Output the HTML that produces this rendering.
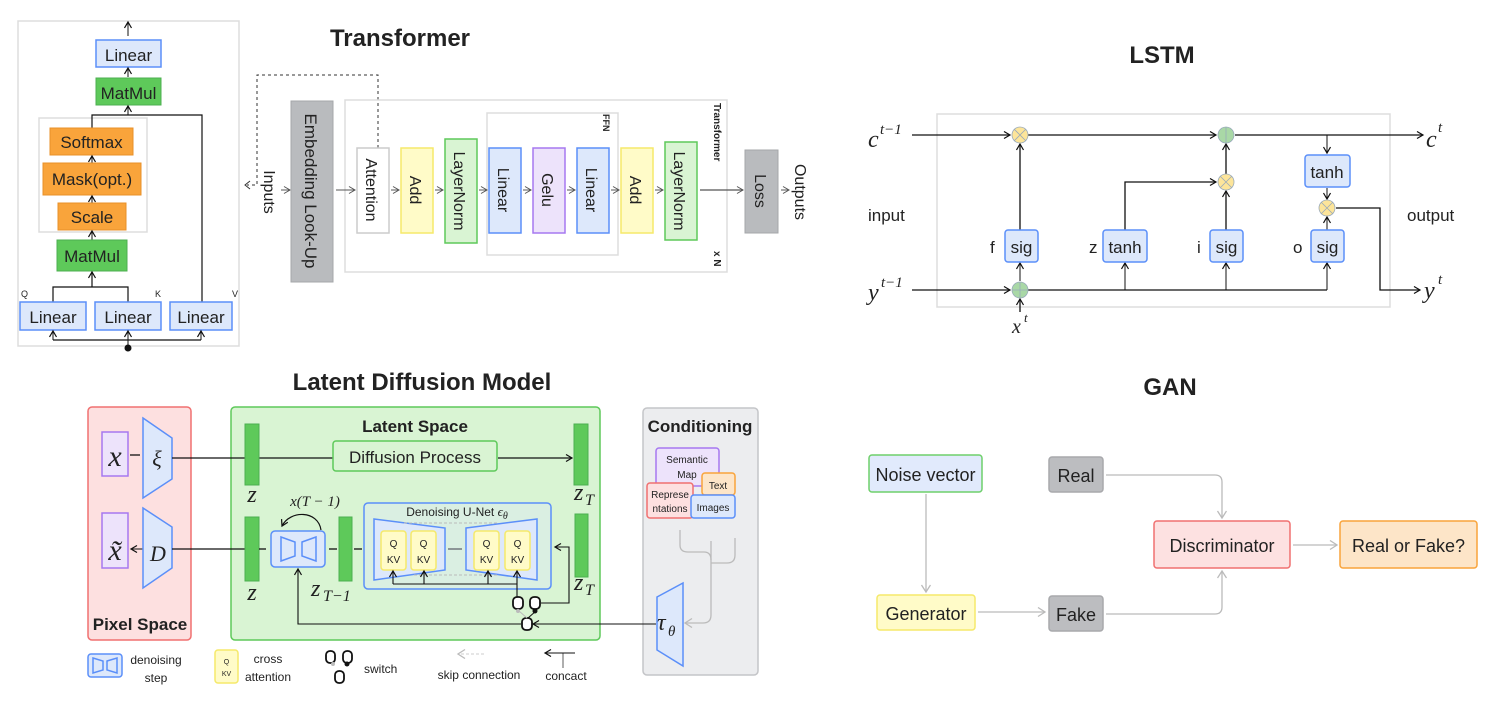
<!DOCTYPE html>
<html><head><meta charset="utf-8"><style>
html,body{margin:0;padding:0;background:#fff;}
svg{display:block;}
text{font-family:"Liberation Sans",sans-serif;fill:#222;}
.t{font-weight:bold;font-size:24px;fill:#222;}
.s{font-family:"Liberation Serif",serif;font-style:italic;}
</style></head><body>
<svg width="1495" height="702" viewBox="0 0 1495 702" xmlns="http://www.w3.org/2000/svg">
<defs>
<marker id="a" markerUnits="userSpaceOnUse" markerWidth="10" markerHeight="10" refX="7" refY="4" orient="auto"><path d="M1,0.5 L7,4 L1,7.5" fill="none" stroke="#111" stroke-width="1.2"/></marker>
<marker id="ag" markerUnits="userSpaceOnUse" markerWidth="12" markerHeight="12" refX="8" refY="5" orient="auto"><path d="M1,0.5 L8,5 L1,9.5" fill="none" stroke="#bbb" stroke-width="1.3"/></marker>
<marker id="ad" markerUnits="userSpaceOnUse" markerWidth="10" markerHeight="10" refX="7" refY="4" orient="auto"><path d="M1,0.5 L7,4 L1,7.5" fill="none" stroke="#555" stroke-width="1"/></marker>
</defs>

<!-- ===== Transformer attention panel ===== -->
<rect x="18" y="21" width="221" height="325" fill="#fff" stroke="#ddd" stroke-width="1.5"/>
<line x1="128" y1="36" x2="128" y2="22" stroke="#111" marker-end="url(#a)"/>
<rect x="96" y="40" width="65" height="27" fill="#dde8fb" stroke="#5b8ff9" stroke-width="1.5"/>
<text x="128.5" y="61" font-size="17" text-anchor="middle">Linear</text>
<line x1="128" y1="77" x2="128" y2="68" stroke="#111" marker-end="url(#a)"/>
<rect x="96" y="78" width="65" height="27" fill="#5ec95a" stroke="#4caf50" stroke-width="1"/>
<text x="128.5" y="99" font-size="17" text-anchor="middle">MatMul</text>
<rect x="39" y="118" width="108" height="114" fill="#fff" stroke="#ddd" stroke-width="1.5"/>
<polyline points="92,129 92,115 202,115 202,302" fill="none" stroke="#111" stroke-width="1.2"/>
<line x1="128" y1="115" x2="128" y2="106" stroke="#111" marker-end="url(#a)"/>
<rect x="50" y="128" width="83" height="27" fill="#f9a43b" stroke="#e8902a"/>
<text x="91.5" y="148" font-size="17" text-anchor="middle">Softmax</text>
<line x1="92" y1="163" x2="92" y2="156" stroke="#111" marker-end="url(#a)"/>
<rect x="43" y="163" width="98" height="32" fill="#f9a43b" stroke="#e8902a"/>
<text x="92" y="185" font-size="17" text-anchor="middle">Mask(opt.)</text>
<line x1="92" y1="203" x2="92" y2="196" stroke="#111" marker-end="url(#a)"/>
<rect x="58" y="203" width="68" height="27" fill="#f9a43b" stroke="#e8902a"/>
<text x="92" y="223" font-size="17" text-anchor="middle">Scale</text>
<line x1="92" y1="240" x2="92" y2="231" stroke="#111" marker-end="url(#a)"/>
<rect x="57" y="240" width="70" height="31" fill="#5ec95a" stroke="#4caf50"/>
<text x="92" y="262" font-size="17" text-anchor="middle">MatMul</text>
<polyline points="53,302 53,287 128,287 128,302" fill="none" stroke="#111" stroke-width="1.2"/>
<line x1="92" y1="287" x2="92" y2="272" stroke="#111" stroke-width="1.2" marker-end="url(#a)"/>
<text x="21" y="297" font-size="9">Q</text><text x="155" y="297" font-size="9">K</text><text x="232" y="297" font-size="9">V</text>
<rect x="20" y="302" width="66" height="28" fill="#dde8fb" stroke="#5b8ff9" stroke-width="1.5"/>
<text x="53" y="323" font-size="17" text-anchor="middle">Linear</text>
<rect x="95" y="302" width="66" height="28" fill="#dde8fb" stroke="#5b8ff9" stroke-width="1.5"/>
<text x="128" y="323" font-size="17" text-anchor="middle">Linear</text>
<rect x="170" y="302" width="62" height="28" fill="#dde8fb" stroke="#5b8ff9" stroke-width="1.5"/>
<text x="201" y="323" font-size="17" text-anchor="middle">Linear</text>
<polyline points="53,340 201,340" fill="none" stroke="#111" stroke-width="1.2"/>
<line x1="53" y1="340" x2="53" y2="331" stroke="#111" marker-end="url(#a)"/>
<line x1="128" y1="347" x2="128" y2="331" stroke="#111" marker-end="url(#a)"/>
<line x1="201" y1="340" x2="201" y2="331" stroke="#111" marker-end="url(#a)"/>
<circle cx="128" cy="348" r="3.5" fill="#111"/>

<!-- ===== Transformer main ===== -->
<text x="400" y="46" class="t" text-anchor="middle">Transformer</text>
<polyline points="378,148 378,75 257,75 257,185 247,185" fill="none" stroke="#333" stroke-dasharray="3,3"/>
<path d="M250,181 L245,185 L250,189" fill="none" stroke="#333"/>
<text transform="translate(264,192) rotate(90)" font-size="16" text-anchor="middle">Inputs</text>
<line x1="281" y1="190" x2="290" y2="190" stroke="#555" marker-end="url(#ad)"/>
<rect x="291" y="101" width="42" height="181" fill="#b9bbbe" stroke="#a5a7aa"/>
<text transform="translate(305,191) rotate(90)" font-size="17" text-anchor="middle">Embedding Look-Up</text>
<rect x="345" y="100" width="382" height="172" fill="none" stroke="#ddd" stroke-width="1.5"/>
<rect x="487" y="113" width="131" height="142" fill="none" stroke="#ddd" stroke-width="1.5"/>
<text transform="translate(603,114) rotate(90)" font-size="9" font-weight="bold">FFN</text>
<text transform="translate(714,103) rotate(90)" font-size="10" font-weight="bold">Transformer</text>
<text transform="translate(714,251) rotate(90)" font-size="10" font-weight="bold">x N</text>
<line x1="336" y1="190" x2="355" y2="190" stroke="#555" marker-end="url(#ad)"/>
<rect x="357" y="148" width="32" height="85" fill="#fff" stroke="#ccc" stroke-width="1.5"/>
<text transform="translate(366,190) rotate(90)" font-size="16" text-anchor="middle">Attention</text>
<line x1="391" y1="190" x2="399" y2="190" stroke="#555" marker-end="url(#ad)"/>
<rect x="401" y="148" width="32" height="85" fill="#fffbc8" stroke="#f5e96a" stroke-width="1.5"/>
<text transform="translate(410,190) rotate(90)" font-size="16" text-anchor="middle">Add</text>
<line x1="435" y1="190" x2="443" y2="190" stroke="#555" marker-end="url(#ad)"/>
<rect x="445" y="139" width="32" height="104" fill="#d9f4d3" stroke="#5ec95a" stroke-width="1.5"/>
<text transform="translate(454,191) rotate(90)" font-size="16" text-anchor="middle">LayerNorm</text>
<line x1="479" y1="190" x2="487" y2="190" stroke="#555" marker-end="url(#ad)"/>
<rect x="489" y="148" width="32" height="85" fill="#dde8fb" stroke="#5b8ff9" stroke-width="1.5"/>
<text transform="translate(498,190) rotate(90)" font-size="16" text-anchor="middle">Linear</text>
<line x1="523" y1="190" x2="531" y2="190" stroke="#555" marker-end="url(#ad)"/>
<rect x="533" y="148" width="32" height="85" fill="#ede3fb" stroke="#a678f0" stroke-width="1.5"/>
<text transform="translate(542,190) rotate(90)" font-size="16" text-anchor="middle">Gelu</text>
<line x1="567" y1="190" x2="575" y2="190" stroke="#555" marker-end="url(#ad)"/>
<rect x="577" y="148" width="32" height="85" fill="#dde8fb" stroke="#5b8ff9" stroke-width="1.5"/>
<text transform="translate(586,190) rotate(90)" font-size="16" text-anchor="middle">Linear</text>
<line x1="611" y1="190" x2="619" y2="190" stroke="#555" marker-end="url(#ad)"/>
<rect x="621" y="148" width="32" height="85" fill="#fffbc8" stroke="#f5e96a" stroke-width="1.5"/>
<text transform="translate(630,190) rotate(90)" font-size="16" text-anchor="middle">Add</text>
<line x1="655" y1="190" x2="663" y2="190" stroke="#555" marker-end="url(#ad)"/>
<rect x="665" y="142" width="32" height="98" fill="#d9f4d3" stroke="#5ec95a" stroke-width="1.5"/>
<text transform="translate(674,191) rotate(90)" font-size="16" text-anchor="middle">LayerNorm</text>
<line x1="700" y1="190" x2="743" y2="190" stroke="#555" stroke-width="1.3" marker-end="url(#ad)"/>
<rect x="745" y="150" width="33" height="83" fill="#b9bbbe" stroke="#a5a7aa"/>
<text transform="translate(755,191) rotate(90)" font-size="16" text-anchor="middle">Loss</text>
<line x1="781" y1="190" x2="789" y2="190" stroke="#555" marker-end="url(#ad)"/>
<text transform="translate(795,192) rotate(90)" font-size="16" text-anchor="middle">Outputs</text>

<!-- ===== LSTM ===== -->
<text x="1162" y="63" class="t" text-anchor="middle">LSTM</text>
<rect x="937" y="114" width="453" height="193" fill="none" stroke="#ddd" stroke-width="1.5"/>
<text x="868" y="147" font-size="24" class="s">c</text><text x="880" y="134" font-size="15" class="s">t−1</text>
<line x1="912" y1="135" x2="1010" y2="135" stroke="#111" stroke-width="1.3" marker-end="url(#a)"/>
<line x1="1028" y1="135" x2="1216" y2="135" stroke="#111" stroke-width="1.3" marker-end="url(#a)"/>
<line x1="1235" y1="135" x2="1423" y2="135" stroke="#111" stroke-width="1.3" marker-end="url(#a)"/>
<text x="1426" y="147" font-size="24" class="s">c</text><text x="1438" y="132" font-size="15" class="s">t</text>
<line x1="1327" y1="135" x2="1327" y2="153" stroke="#111" marker-end="url(#a)"/>
<rect x="1305" y="155" width="45" height="32" rx="3" fill="#dde8fb" stroke="#5b8ff9" stroke-width="1.5"/>
<text x="1327" y="178" font-size="17" text-anchor="middle">tanh</text>
<line x1="1327" y1="188" x2="1327" y2="199" stroke="#111" marker-end="url(#a)"/>
<polyline points="1336,208 1380,208 1380,290 1420,290" fill="none" stroke="#111" stroke-width="1.3" marker-end="url(#a)"/>
<text x="1424" y="298" font-size="24" class="s">y</text><text x="1438" y="284" font-size="15" class="s">t</text>
<text x="868" y="300" font-size="24" class="s">y</text><text x="881" y="287" font-size="15" class="s">t−1</text>
<line x1="912" y1="290" x2="1010" y2="290" stroke="#111" stroke-width="1.3" marker-end="url(#a)"/>
<line x1="1028" y1="290" x2="1327" y2="290" stroke="#111" stroke-width="1.3"/>
<line x1="1020" y1="312" x2="1020" y2="299" stroke="#111" stroke-width="1.3" marker-end="url(#a)"/>
<text x="1012" y="333" font-size="20" class="s">x</text><text x="1024" y="322" font-size="13" class="s">t</text>
<line x1="1020" y1="281" x2="1020" y2="263" stroke="#111" marker-end="url(#a)"/>
<line x1="1125" y1="290" x2="1125" y2="263" stroke="#111" marker-end="url(#a)"/>
<line x1="1226" y1="290" x2="1226" y2="263" stroke="#111" marker-end="url(#a)"/>
<line x1="1327" y1="290" x2="1327" y2="263" stroke="#111" marker-end="url(#a)"/>
<line x1="1020" y1="230" x2="1020" y2="144" stroke="#111" stroke-width="1.3" marker-end="url(#a)"/>
<polyline points="1125,230 1125,182 1216,182" fill="none" stroke="#111" stroke-width="1.3" marker-end="url(#a)"/>
<line x1="1226" y1="230" x2="1226" y2="191" stroke="#111" stroke-width="1.3" marker-end="url(#a)"/>
<line x1="1226" y1="174" x2="1226" y2="144" stroke="#111" stroke-width="1.3" marker-end="url(#a)"/>
<line x1="1327" y1="230" x2="1327" y2="217" stroke="#111" marker-end="url(#a)"/>
<g stroke="#9ab" stroke-width="0.8">
<circle cx="1020" cy="135" r="8" fill="#fde59a"/><path d="M1014,129 L1026,141 M1026,129 L1014,141"/>
<circle cx="1226" cy="135" r="8" fill="#a9d8a6"/><path d="M1226,127 V143"/>
<circle cx="1226" cy="182" r="8" fill="#fde59a"/><path d="M1220,176 L1232,188 M1232,176 L1220,188"/>
<circle cx="1327" cy="208" r="8" fill="#fde59a"/><path d="M1321,202 L1333,214 M1333,202 L1321,214"/>
<circle cx="1020" cy="290" r="8" fill="#a9d8a6"/><path d="M1020,282 V298 M1012,290 H1028"/>
</g>
<rect x="1005" y="230" width="33" height="32" rx="3" fill="#dde8fb" stroke="#5b8ff9" stroke-width="1.5"/><text x="1021.5" y="253" font-size="17" text-anchor="middle">sig</text><text x="990" y="253" font-size="17">f</text>
<rect x="1103" y="230" width="44" height="32" rx="3" fill="#dde8fb" stroke="#5b8ff9" stroke-width="1.5"/><text x="1125" y="253" font-size="17" text-anchor="middle">tanh</text><text x="1089" y="253" font-size="17">z</text>
<rect x="1210" y="230" width="33" height="32" rx="3" fill="#dde8fb" stroke="#5b8ff9" stroke-width="1.5"/><text x="1226.5" y="253" font-size="17" text-anchor="middle">sig</text><text x="1197" y="253" font-size="17">i</text>
<rect x="1311" y="230" width="33" height="32" rx="3" fill="#dde8fb" stroke="#5b8ff9" stroke-width="1.5"/><text x="1327.5" y="253" font-size="17" text-anchor="middle">sig</text><text x="1293" y="253" font-size="17">o</text>
<text x="868" y="221" font-size="17">input</text>
<text x="1407" y="221" font-size="17">output</text>

<!-- ===== GAN ===== -->
<text x="1170" y="395" class="t" text-anchor="middle">GAN</text>
<g stroke="#bbb" stroke-width="1.3" fill="none">
<line x1="926" y1="494" x2="926" y2="592" marker-end="url(#ag)"/>
<line x1="978" y1="612" x2="1045" y2="612" marker-end="url(#ag)"/>
<path d="M1106,475 H1215 Q1222,475 1222,482 V518" marker-end="url(#ag)"/>
<path d="M1106,614 H1215 Q1222,614 1222,607 V571" marker-end="url(#ag)"/>
<line x1="1293" y1="545" x2="1337" y2="545" marker-end="url(#ag)"/>
</g>
<rect x="869" y="455" width="113" height="37" rx="3" fill="#e1eafc" stroke="#6fd06b" stroke-width="1.5"/><text x="925.5" y="481" font-size="18" text-anchor="middle">Noise vector</text>
<rect x="877" y="595" width="98" height="35" rx="3" fill="#fffbc8" stroke="#f5e96a" stroke-width="1.5"/><text x="926" y="620" font-size="18" text-anchor="middle">Generator</text>
<rect x="1049" y="457" width="54" height="35" rx="3" fill="#bcbdc0" stroke="#a8a9ac" stroke-width="1.5"/><text x="1076" y="482" font-size="18" text-anchor="middle">Real</text>
<rect x="1049" y="596" width="54" height="35" rx="3" fill="#bcbdc0" stroke="#a8a9ac" stroke-width="1.5"/><text x="1076" y="621" font-size="18" text-anchor="middle">Fake</text>
<rect x="1154" y="521" width="136" height="47" rx="3" fill="#fde1e1" stroke="#f07070" stroke-width="1.5"/><text x="1222" y="552" font-size="18" text-anchor="middle">Discriminator</text>
<rect x="1340" y="521" width="137" height="47" rx="3" fill="#fde5c8" stroke="#f9a43b" stroke-width="1.5"/><text x="1408.5" y="552" font-size="18" text-anchor="middle">Real or Fake?</text>

<!-- ===== Latent Diffusion ===== -->
<text x="422" y="390" class="t" text-anchor="middle">Latent Diffusion Model</text>
<rect x="88" y="407" width="103" height="233" rx="4" fill="#fde0e0" stroke="#f07070" stroke-width="1.5"/>
<text x="140" y="630" font-size="17" font-weight="bold" text-anchor="middle">Pixel Space</text>
<rect x="231" y="407" width="369" height="233" rx="4" fill="#d9f4d3" stroke="#5ec95a" stroke-width="1.5"/>
<text x="415" y="432" font-size="17" font-weight="bold" text-anchor="middle">Latent Space</text>
<rect x="643" y="408" width="115" height="267" rx="4" fill="#ecedef" stroke="#c4c5c8" stroke-width="1.5"/>
<text x="700" y="432" font-size="17" font-weight="bold" text-anchor="middle">Conditioning</text>

<rect x="102" y="432" width="26" height="44" fill="#ede3fb" stroke="#a678f0" stroke-width="1.5"/>
<text x="115" y="466" font-size="30" class="s" text-anchor="middle">x</text>
<line x1="130" y1="455" x2="140" y2="455" stroke="#111" stroke-width="1.3"/>
<polygon points="143,418 172,438 172,479 143,498" fill="#dde8fb" stroke="#5b8ff9" stroke-width="1.5"/>
<text x="157" y="466" font-size="22" class="s" text-anchor="middle">ξ</text>
<rect x="102" y="513" width="26" height="55" fill="#ede3fb" stroke="#a678f0" stroke-width="1.5"/>
<text x="115" y="560" font-size="30" class="s" text-anchor="middle">x̃</text>
<line x1="143" y1="549" x2="131" y2="549" stroke="#111" marker-end="url(#a)"/>
<polygon points="143,508 172,527 172,568 143,588" fill="#dde8fb" stroke="#5b8ff9" stroke-width="1.5"/>
<text x="158" y="561" font-size="22" class="s" text-anchor="middle">D</text>
<line x1="172" y1="458" x2="245" y2="458" stroke="#111" stroke-width="1.3"/>
<line x1="172" y1="549" x2="245" y2="549" stroke="#111" stroke-width="1.3"/>
<line x1="259" y1="458" x2="333" y2="458" stroke="#111" stroke-width="1.3"/>
<line x1="498" y1="458" x2="572" y2="458" stroke="#111" stroke-width="1.3" marker-end="url(#a)"/>
<rect x="333" y="441" width="164" height="30" rx="3" fill="#d9f4d3" stroke="#5ec95a" stroke-width="1.5"/>
<text x="415" y="463" font-size="17" text-anchor="middle">Diffusion Process</text>
<rect x="245" y="424" width="14" height="61" fill="#5ec95a" stroke="#4caf50"/>
<rect x="574" y="424" width="14" height="61" fill="#5ec95a" stroke="#4caf50"/>
<rect x="245" y="517" width="14" height="64" fill="#5ec95a" stroke="#4caf50"/>
<rect x="339" y="517" width="13" height="64" fill="#5ec95a" stroke="#4caf50"/>
<rect x="575" y="514" width="13" height="63" fill="#5ec95a" stroke="#4caf50"/>
<text x="252" y="502" font-size="24" class="s" text-anchor="middle">z</text>
<text x="252" y="600" font-size="24" class="s" text-anchor="middle">z</text>
<text x="574" y="500" font-size="24" class="s">z</text><text x="585" y="505" font-size="16" class="s">T</text>
<text x="574" y="590" font-size="24" class="s">z</text><text x="585" y="595" font-size="16" class="s">T</text>
<text x="311" y="596" font-size="24" class="s">z</text><text x="323" y="601" font-size="16" class="s">T−1</text>
<g stroke="#111" stroke-width="1.3">
<line x1="259" y1="549" x2="266" y2="549"/><line x1="329" y1="549" x2="337" y2="549"/><line x1="354" y1="549" x2="362" y2="549"/><line x1="448" y1="549" x2="462" y2="549"/>
</g>
<text x="315" y="506" font-size="15" class="s" text-anchor="middle">x(T − 1)</text>
<path d="M321,530 C318,510 290,510 282,526" fill="none" stroke="#111" stroke-width="1.2" marker-end="url(#a)"/>
<rect x="271" y="531" width="54" height="36" rx="4" fill="#dde8fb" stroke="#5b8ff9" stroke-width="1.5"/>
<polygon points="281,537 295,542 295,556 281,561" fill="#dde8fb" stroke="#5b8ff9" stroke-width="1.5"/>
<polygon points="302,542 316,537 316,561 302,556" fill="#dde8fb" stroke="#5b8ff9" stroke-width="1.5"/>
<rect x="364" y="503" width="187" height="86" rx="4" fill="#dde8fb" fill-opacity="0.4" stroke="#5b8ff9" stroke-width="1.5"/>
<text x="457" y="516" font-size="12" text-anchor="middle">Denoising U-Net <tspan class="s" font-size="13">ϵ</tspan><tspan class="s" font-size="10" dy="3">θ</tspan></text>
<polygon points="374,519 445,528 445,570 374,580" fill="#dde8fb" stroke="#5b8ff9" stroke-width="1.5"/>
<polygon points="466,528 537,519 537,580 466,570" fill="#dde8fb" stroke="#5b8ff9" stroke-width="1.5"/>
<g stroke="#bbb" stroke-dasharray="3,2" fill="none"><line x1="497" y1="523" x2="404" y2="523"/><line x1="497" y1="575" x2="412" y2="575"/></g>
<g font-size="10" text-anchor="middle">
<rect x="381" y="531" width="25" height="39" rx="3" fill="#fffbc8" stroke="#f5e96a" stroke-width="1.5"/><text x="393.5" y="547">Q</text><text x="393.5" y="563">KV</text>
<rect x="411" y="531" width="25" height="39" rx="3" fill="#fffbc8" stroke="#f5e96a" stroke-width="1.5"/><text x="423.5" y="547">Q</text><text x="423.5" y="563">KV</text>
<rect x="474" y="531" width="25" height="39" rx="3" fill="#fffbc8" stroke="#f5e96a" stroke-width="1.5"/><text x="486.5" y="547">Q</text><text x="486.5" y="563">KV</text>
<rect x="505" y="531" width="25" height="39" rx="3" fill="#fffbc8" stroke="#f5e96a" stroke-width="1.5"/><text x="517.5" y="547">Q</text><text x="517.5" y="563">KV</text>
</g>
<g stroke="#111" stroke-width="1.1" fill="none">
<polyline points="393,584 517,584"/>
<line x1="393" y1="584" x2="393" y2="571" marker-end="url(#a)"/>
<line x1="424" y1="584" x2="424" y2="571" marker-end="url(#a)"/>
<line x1="488" y1="584" x2="488" y2="571" marker-end="url(#a)"/>
<line x1="517" y1="598" x2="517" y2="571" marker-end="url(#a)"/>
<polyline points="541,603 569,603 569,547 555,547" marker-end="url(#a)"/>
<polyline points="521,624 298,624 298,569" marker-end="url(#a)"/>
<line x1="656" y1="624" x2="533" y2="624" marker-end="url(#a)"/>
</g>
<g stroke="#111" stroke-width="1.8" fill="#fff">
<rect x="513" y="597" width="10" height="12" rx="4"/><rect x="530" y="597" width="10" height="12" rx="4"/><rect x="522" y="618" width="10" height="12" rx="4"/>
</g>
<line x1="519" y1="611" x2="527" y2="618" stroke="#bbb"/><line x1="536" y1="611" x2="528" y2="618" stroke="#111"/>
<circle cx="518" cy="611" r="2" fill="#bbb"/><circle cx="535" cy="611" r="2.5" fill="#111"/>

<!-- conditioning -->
<g stroke="#bbb" stroke-width="1.3" fill="none">
<path d="M680,530 V545 Q680,552 688,552 H704 Q711,552 711,560"/>
<path d="M735,538 V555 Q735,563 727,563 H711"/>
<path d="M711,541 V615 Q711,623 703,623 H685" marker-end="url(#ag)"/>
</g>
<rect x="656" y="448" width="63" height="38" rx="3" fill="#ede3fb" stroke="#a678f0" stroke-width="1.5"/>
<text x="687" y="463" font-size="10" text-anchor="middle">Semantic</text><text x="687" y="478" font-size="10" text-anchor="middle">Map</text>
<rect x="702" y="473" width="33" height="22" rx="3" fill="#fde5c8" stroke="#f9a43b" stroke-width="1.5"/>
<text x="718" y="489" font-size="10" text-anchor="middle">Text</text>
<rect x="647" y="483" width="46" height="35" rx="3" fill="#fde0e0" stroke="#f07070" stroke-width="1.5"/>
<text x="670" y="498" font-size="10" text-anchor="middle">Represe</text><text x="670" y="512" font-size="10" text-anchor="middle">ntations</text>
<rect x="691" y="495" width="44" height="23" rx="3" fill="#dde8fb" stroke="#5b8ff9" stroke-width="1.5"/>
<text x="713" y="511" font-size="10" text-anchor="middle">Images</text>
<polygon points="657,597 683,583 683,666 657,650" fill="#dde8fb" stroke="#5b8ff9" stroke-width="1.5"/>
<text x="657" y="630" font-size="24" class="s">τ</text><text x="668" y="636" font-size="15" class="s">θ</text>

<!-- legend -->
<rect x="88" y="654" width="34" height="23" rx="3" fill="#dde8fb" stroke="#5b8ff9" stroke-width="1.5"/>
<polygon points="93,658 103,661 103,670 93,673" fill="#dde8fb" stroke="#5b8ff9" stroke-width="1.5"/>
<polygon points="107,661 117,658 117,673 107,670" fill="#dde8fb" stroke="#5b8ff9" stroke-width="1.5"/>
<text x="156" y="664" font-size="12" text-anchor="middle">denoising</text><text x="156" y="682" font-size="12" text-anchor="middle">step</text>
<rect x="215" y="650" width="23" height="33" rx="3" fill="#fffbc8" stroke="#f5e96a" stroke-width="1.5"/>
<text x="226.5" y="664" font-size="7" text-anchor="middle">Q</text><text x="226.5" y="676" font-size="7" text-anchor="middle">KV</text>
<text x="268" y="663" font-size="12" text-anchor="middle">cross</text><text x="268" y="681" font-size="12" text-anchor="middle">attention</text>
<g stroke="#111" stroke-width="1.8" fill="#fff">
<rect x="326" y="651" width="9" height="12" rx="4"/><rect x="343" y="651" width="9" height="12" rx="4"/><rect x="335" y="671" width="9" height="12" rx="4"/>
</g>
<circle cx="333" cy="664" r="2" fill="#bbb"/><circle cx="347" cy="664" r="2.5" fill="#111"/>
<text x="364" y="673" font-size="12">switch</text>
<line x1="484" y1="654" x2="458" y2="654" stroke="#ccc" stroke-dasharray="3,2" marker-end="url(#ag)"/>
<text x="479" y="679" font-size="12" text-anchor="middle">skip connection</text>
<line x1="563" y1="653" x2="563" y2="668" stroke="#777" stroke-width="1.2"/>
<line x1="575" y1="653" x2="545" y2="653" stroke="#111" marker-end="url(#a)"/>
<text x="566" y="680" font-size="12" text-anchor="middle">concact</text>
</svg>
</body></html>
